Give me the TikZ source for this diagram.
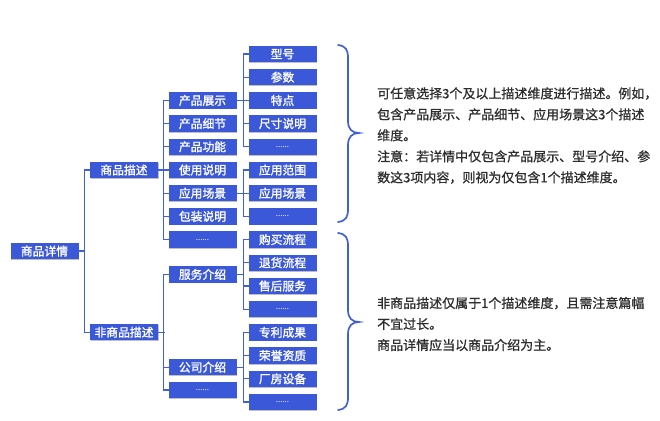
\documentclass[tikz,border=0pt]{standalone}
\usepackage{fontspec}
\setmainfont{Noto Sans CJK SC}
\newfontfamily\boxfont[FakeBold=1.4]{Noto Sans CJK SC}
\newfontfamily\notefont[FakeBold=0.9]{Noto Sans CJK SC}
\usetikzlibrary{shadows}
\definecolor{boxblue}{RGB}{58,88,216}
\definecolor{lineblue}{RGB}{66,96,214}
\definecolor{txtgray}{RGB}{45,45,45}
\begin{document}
\begin{tikzpicture}[x=1pt,y=-1pt,
  cell/.style={fill=boxblue, text=white, minimum width=68pt, minimum height=16.5pt, inner sep=0pt,
    font=\boxfont\fontsize{11.8}{12}\selectfont,
    drop shadow={shadow xshift=0.5pt, shadow yshift=-0.8pt, opacity=0.25, fill=black}},
  dots/.style={cell, font=\fontsize{8}{9}\selectfont},
  conn/.style={draw=lineblue, line width=1.3pt, line cap=rect},
  bracestyle/.style={draw=lineblue, line width=1.7pt, line cap=round},
  note/.style={text=txtgray, align=left, anchor=west, inner sep=0pt,
    font=\notefont\fontsize{13}{21}\selectfont}]
\useasboundingbox (0,0) rectangle (660,420);
% level 1
\node[cell] (root) at (44.5,251.1) {商品详情};
% level 2
\node[cell] (sp) at (124,170) {商品描述};
\node[cell] (fsp) at (124,332.2) {非商品描述};
% level 3
\node[cell] (cpzs) at (202.5,100.4) {产品展示};
\node[cell] (cpxj) at (202.5,123.6) {产品细节};
\node[cell] (cpgn) at (202.5,146.8) {产品功能};
\node[cell] (sysm) at (202.5,170) {使用说明};
\node[cell] (yycj) at (202.5,193.2) {应用场景};
\node[cell] (bzsm) at (202.5,216.4) {包装说明};
\node[dots] (d3a) at (202.5,239.6) {......};
\node[cell] (fwjs) at (202.5,274.4) {服务介绍};
\node[cell] (gsjs) at (202.5,367.2) {公司介绍};
\node[dots] (d3b) at (202.5,390) {......};
% level 4
\node[cell] (xh) at (282.5,54) {型号};
\node[cell] (cs) at (282.5,77.2) {参数};
\node[cell] (td) at (282.5,100.4) {特点};
\node[cell] (ccsm) at (282.5,123.6) {尺寸说明};
\node[dots] (d4a) at (282.5,146.8) {......};
\node[cell] (yyfw) at (282.5,170) {应用范围};
\node[cell] (yycj2) at (282.5,193.2) {应用场景};
\node[dots] (d4b) at (282.5,216.4) {......};
\node[cell] (gmlc) at (282.5,239.6) {购买流程};
\node[cell] (thlc) at (282.5,262.8) {退货流程};
\node[cell] (shfw) at (282.5,286) {售后服务};
\node[dots] (d4c) at (282.5,309.2) {......};
\node[cell] (zlcg) at (282.5,332.4) {专利成果};
\node[cell] (ryzz) at (282.5,355.6) {荣誉资质};
\node[cell] (cfsb) at (282.5,378.8) {厂房设备};
\node[dots] (d4d) at (282.5,402) {......};
% connectors
\foreach \p/\first/\last/\kids in {
  root/sp/fsp/{sp,fsp},
  sp/cpzs/d3a/{cpzs,cpxj,cpgn,sysm,yycj,bzsm,d3a},
  fsp/fwjs/d3b/{fwjs,gsjs,d3b},
  cpzs/xh/d4a/{xh,cs,td,ccsm,d4a},
  yycj/yyfw/d4b/{yyfw,yycj2,d4b},
  fwjs/gmlc/d4c/{gmlc,thlc,shfw,d4c},
  gsjs/zlcg/d4d/{zlcg,ryzz,cfsb,d4d}} {
  \draw[conn] (\p.east) -- ++(6,0);
  \draw[conn] ([xshift=-5pt]\first.west) -- ([xshift=-5pt]\last.west);
  \foreach \c in \kids { \draw[conn] (\c.west) -- ++(-5,0); }
}
% braces
\draw[bracestyle] (338,45) .. controls (346,46) and (348,50) .. (348,58) -- (348,121)
  .. controls (348,129) and (352,133) .. (359,133)
  .. controls (352,133) and (348,137) .. (348,145) -- (348,209)
  .. controls (348,217) and (346,221) .. (338,222);
\draw[bracestyle] (338,233) .. controls (346,234) and (348,238) .. (348,246) -- (348,310)
  .. controls (348,318) and (352,322) .. (359,322)
  .. controls (352,322) and (348,326) .. (348,334) -- (348,397)
  .. controls (348,405) and (346,409) .. (338,410);
% notes
\node[note] (n1) at (377,135.5) {可任意选择3个及以上描述维度进行描述。例如，\\
包含产品展示、产品细节、应用场景这3个描述\\
维度。\\
注意：若详情中仅包含产品展示、型号介绍、参\\
数这3项内容，则视为仅包含1个描述维度。};
\node[note] (n2) at (377,324) {非商品描述仅属于1个描述维度，且需注意篇幅\\
不宜过长。\\
商品详情应当以商品介绍为主。};
\end{tikzpicture}
\end{document}
